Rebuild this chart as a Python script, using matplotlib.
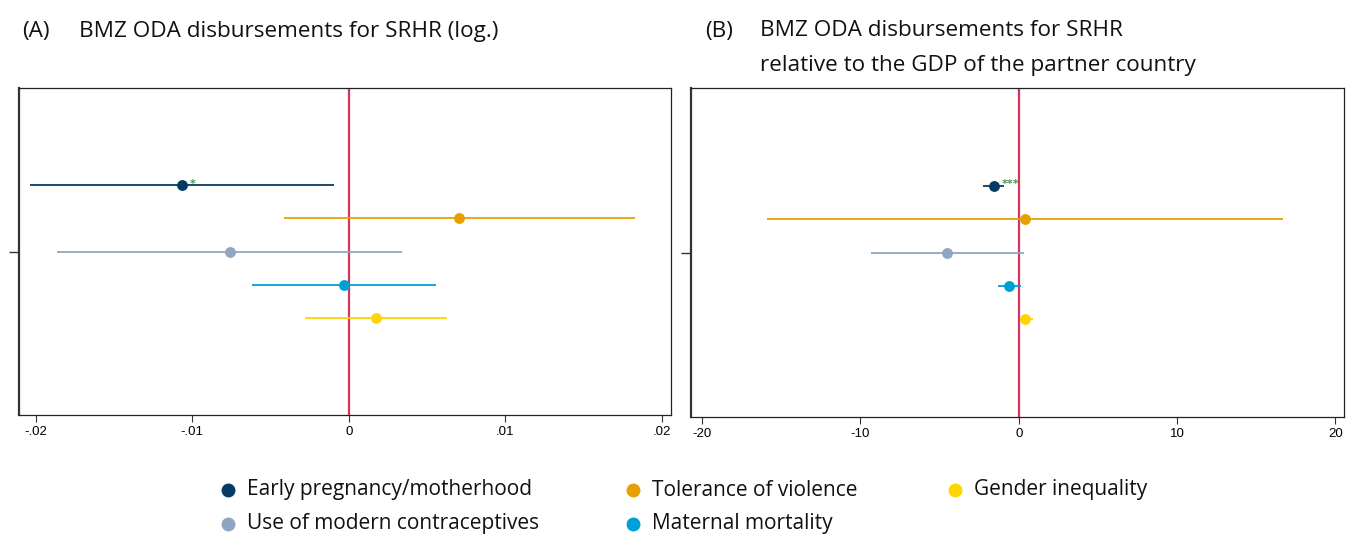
import matplotlib.pyplot as plt

# Outcomes, plotted top to bottom
outcomes = ["Early pregnancy/motherhood", "Tolerance of violence",
            "Use of modern contraceptives", "Maternal mortality",
            "Gender inequality"]
colors = ["#073b63", "#e6a100", "#8fa6c1", "#009fd6", "#ffd500"]

# (A) log of BMZ ODA disbursements for SRHR
coef_a = [-0.01064, 0.00703, -0.00759, -0.00031, 0.00174]
lo_a = [-0.02038, -0.00416, -0.01864, -0.00615, -0.00277]
hi_a = [-0.00092, 0.01828, 0.00343, 0.00559, 0.00628]
stars_a = ["*", "", "", "", ""]

# (B) BMZ ODA disbursements for SRHR relative to partner-country GDP
coef_b = [-1.58, 0.40, -4.51, -0.59, 0.40]
lo_b = [-2.25, -15.93, -9.31, -1.29, 0.08]
hi_b = [-0.94, 16.71, 0.32, 0.16, 0.88]
stars_b = ["***", "", "", "", ""]

xticks_a = [-0.02, -0.01, 0, 0.01, 0.02]
xticklabels_a = ["-.02", "-.01", "0", ".01", ".02"]
xticks_b = [-20, -10, 0, 10, 20]
xticklabels_b = ["-20", "-10", "0", "10", "20"]

plt.rcParams["font.family"] = ["Open Sans", "DejaVu Sans"]

W, H = 1346, 537
fig = plt.figure(figsize=(W / 100, H / 100), dpi=100)
ax_a = fig.add_axes([19 / W, 122 / H, 652 / W, 327 / H])
ax_b = fig.add_axes([691.5 / W, 120 / H, 652.5 / W, 329 / H])

ypos = [1, 2, 3, 4, 5]


def draw_panel(ax, coef, lo, hi, stars, xlim, ticks, labels):
    ax.axvline(0, color="#d7345d", lw=1.6, zorder=1)
    for y, c, l, h, col, s in zip(ypos, coef, lo, hi, colors, stars):
        ax.plot([l, h], [y, y], color=col, lw=1.3, solid_capstyle="butt", zorder=2)
        ax.plot([c], [y], "o", color=col, ms=6.8, mec=col, zorder=3)
        if s:
            ax.annotate(s, (c, y), xytext=(5.5, -1.0), textcoords="offset points",
                        color="#3a9a46", fontsize=8, fontweight="bold",
                        ha="left", va="baseline", family="DejaVu Sans")
    ax.set_xlim(*xlim)
    ax.set_ylim(3 + 4.95, 3 - 4.95)
    ax.set_yticks([3])
    ax.set_yticklabels([""])
    ax.set_xticks(ticks)
    ax.set_xticklabels(labels, family=["Liberation Sans", "DejaVu Sans"], fontsize=9.5)
    ax.tick_params(axis="x", length=5, width=0.8, color="#333333", pad=3)
    ax.tick_params(axis="y", length=7, width=1, color="#333333")
    for side in ["top", "right", "bottom"]:
        ax.spines[side].set_linewidth(0.9)
        ax.spines[side].set_color("#222222")
    ax.spines["left"].set_linewidth(1.6)
    ax.spines["left"].set_color("#333333")


draw_panel(ax_a, coef_a, lo_a, hi_a, stars_a, (-0.02106, 0.02058), xticks_a, xticklabels_a)
draw_panel(ax_b, coef_b, lo_b, hi_b, stars_b, (-20.67, 20.54), xticks_b, xticklabels_b)

title_kw = dict(fontsize=16.2, color="#111111", va="center", ha="left")
fig.text(22 / W, 1 - 31 / H, "(A)", **title_kw)
fig.text(79 / W, 1 - 31 / H, "BMZ ODA disbursements for SRHR (log.)", **title_kw)
fig.text(705 / W, 1 - 31 / H, "(B)", **title_kw)
fig.text(760 / W, 1 - 31 / H, "BMZ ODA disbursements for SRHR", **title_kw)
fig.text(760 / W, 1 - 66 / H, "relative to the GDP of the partner country", **title_kw)

# Legend: two rows, three columns, placed in figure pixels
legend_items = [(0, 228, 490), (1, 633, 490), (4, 955, 490),
                (2, 228, 524), (3, 633, 524)]
for idx, mx, my in legend_items:
    fig.lines.append(plt.Line2D([mx / W], [1 - my / H], transform=fig.transFigure,
                                ls="", marker="o", ms=9, color=colors[idx]))
    fig.text((mx + 19) / W, 1 - my / H, outcomes[idx], fontsize=15,
             color="#111111", va="center", ha="left")

fig.savefig("out.png", dpi=100)
